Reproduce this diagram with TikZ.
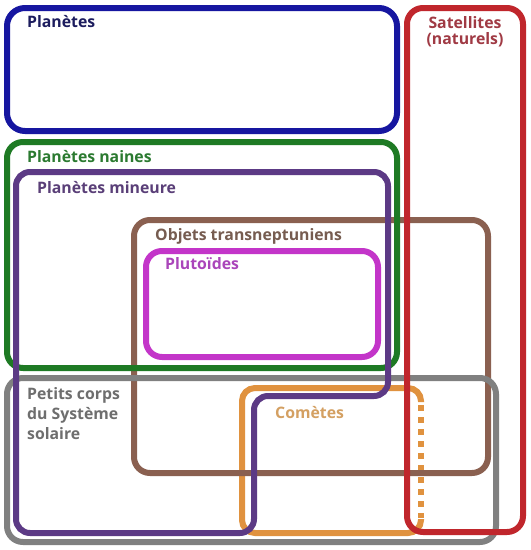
\documentclass[tikz,border=0pt]{standalone}
\usepackage{fontspec}
\setmainfont{Open Sans}
\definecolor{planeteblue}{HTML}{1616A0}
\definecolor{planetetext}{HTML}{1C1C5E}
\definecolor{satred}{HTML}{C0262C}
\definecolor{sattext}{HTML}{A03A44}
\definecolor{nainegreen}{HTML}{1E7A24}
\definecolor{nainetext}{HTML}{2B7A30}
\definecolor{mineurpurple}{HTML}{5C3A85}
\definecolor{mineurtext}{HTML}{5A3F78}
\definecolor{tnobrown}{HTML}{8A6050}
\definecolor{tnotext}{HTML}{765C50}
\definecolor{plutomag}{HTML}{C335C9}
\definecolor{plutotext}{HTML}{AA45BA}
\definecolor{petitgray}{HTML}{808080}
\definecolor{petittext}{HTML}{6E6E6E}
\definecolor{cometorange}{HTML}{E0923F}
\definecolor{comettext}{HTML}{D4A062}
\begin{document}
\begin{tikzpicture}[x=1pt,y=-1pt,
  ensemble/.style={line width=6pt,rounded corners=16pt},
  nom/.style={anchor=base west,inner sep=0pt,align=left,
    font=\bfseries\fontsize{15.8}{20}\selectfont}]
\useasboundingbox (0,0) rectangle (531,550);
\fill[white] (0,0) rectangle (531,550);
\draw[ensemble,cometorange,rounded corners=13pt] (421,402) -- (421,388) -- (242,388) -- (242,533) -- (421,533) -- (421,519);
\draw[cometorange,line width=6pt,dash pattern=on 6pt off 6pt] (421,405) -- (421,518);
\draw[ensemble,tnobrown] (134,220) rectangle (488,473);
\draw[ensemble,petitgray] (7,378) rectangle (496,542);
\draw[ensemble,nainegreen] (7,142) rectangle (397,368);
\draw[ensemble,plutomag] (146,251) rectangle (378,357);
\draw[ensemble,mineurpurple,rounded corners=14pt] (16,172) -- (388,172) -- (388,396) -- (254,396) -- (254,533) -- (16,533) -- cycle;
\draw[ensemble,planeteblue,rounded corners=18pt] (7,8) rectangle (397,131);
\draw[ensemble,satred] (407,8) rectangle (523,532);

\node[nom,text=planetetext] (planetes) at (27,27) {Planètes};
\node[nom,text=sattext,anchor=base,align=center,font=\bfseries\fontsize{15.8}{16}\selectfont] (satellites) at (465,44) {Satellites\\(naturels)};
\node[nom,text=nainetext] (naines) at (27,162) {Planètes naines};
\node[nom,text=mineurtext] (mineure) at (37,193) {Planètes mineure};
\node[nom,text=tnotext] (tno) at (155,240) {Objets transneptuniens};
\node[nom,text=plutotext] (plutoides) at (165,269) {Plutoïdes};
\node[nom,text=petittext] (petits) at (27,439) {Petits corps\\du Système\\solaire};
\node[nom,text=comettext] (cometes) at (275,418) {Comètes};
\end{tikzpicture}
\end{document}
